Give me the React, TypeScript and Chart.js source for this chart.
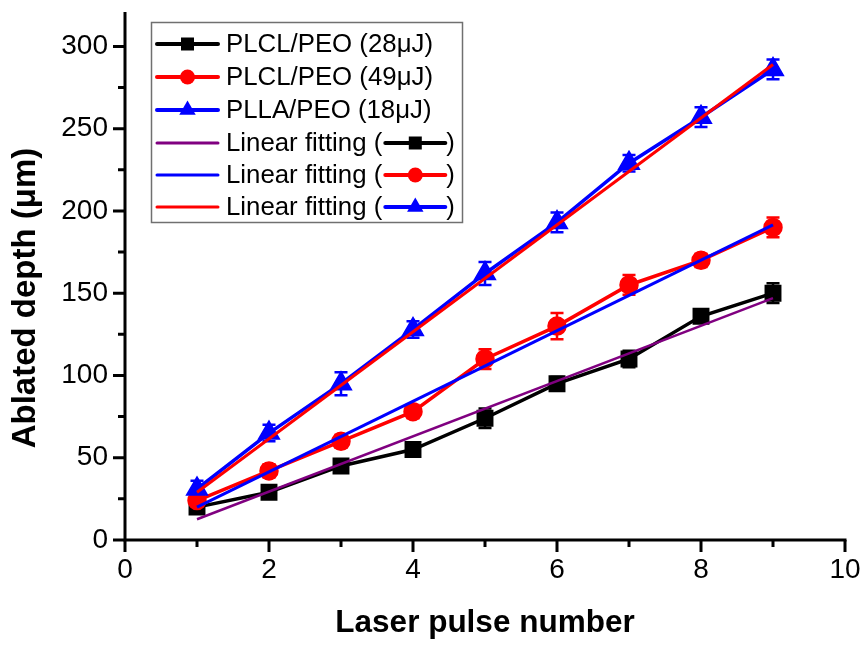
import React, { useEffect, useRef } from "react";
import { Chart, registerables } from "chart.js";

Chart.register(...registerables);

// ---- data ----
const pulses = [1, 2, 3, 4, 5, 6, 7, 8, 9];
const plcl28 = [20, 29, 45, 55, 74, 95, 110, 136, 150];
const plcl28Err = [3, 3, 3, 4, 6, 4, 5, 3, 6];
const plcl49 = [24, 42, 60, 78, 110, 130, 155, 170, 190];
const plcl49Err = [4, 4, 4, 4, 6, 8, 6, 4, 6];
const plla18 = [31, 65, 95, 128, 162, 193, 229, 257, 286];
const plla18Err = [5, 5, 7, 5, 7, 6, 5, 6, 6];

const fitX = [1, 9];
const fit28 = [12.6, 147];
const fit49 = [20, 191.5];
const fit18 = [29, 289];

const xMajorTicks = [0, 2, 4, 6, 8, 10];
const xMinorTicks = [1, 3, 5, 7, 9];
const yMajorTicks = [0, 50, 100, 150, 200, 250, 300];
const yMinorTicks = [25, 75, 125, 175, 225, 275];

const seriesLabels = ["PLCL/PEO (28\u03bcJ)", "PLCL/PEO (49\u03bcJ)", "PLLA/PEO (18\u03bcJ)"];
const fitLabel = "Linear fitting (";
const xTitle = "Laser pulse number";
const yTitle = "Ablated depth (\u03bcm)";

const FONT = "'Liberation Sans', Arial, sans-serif";

type Marker = "rect" | "circle" | "triangle";

function drawMarker(ctx: CanvasRenderingContext2D, m: Marker, x: number, y: number, color: string) {
  ctx.save();
  ctx.fillStyle = color;
  ctx.beginPath();
  if (m === "rect") {
    ctx.rect(x - 6.5, y - 6.5, 13, 13);
  } else if (m === "circle") {
    ctx.arc(x, y, 7.5, 0, Math.PI * 2);
  } else {
    const r = 9.5;
    ctx.moveTo(x, y - r);
    ctx.lineTo(x + r * 0.866, y + r * 0.5);
    ctx.lineTo(x - r * 0.866, y + r * 0.5);
    ctx.closePath();
  }
  ctx.fill();
  ctx.restore();
}

function drawSample(
  ctx: CanvasRenderingContext2D,
  x0: number,
  x1: number,
  y: number,
  color: string,
  width: number,
  marker?: Marker
) {
  ctx.save();
  ctx.strokeStyle = color;
  ctx.lineWidth = width;
  ctx.lineCap = "round";
  ctx.beginPath();
  ctx.moveTo(x0, y);
  ctx.lineTo(x1, y);
  ctx.stroke();
  ctx.restore();
  if (marker) drawMarker(ctx, marker, (x0 + x1) / 2, y, color);
}

const errorBarPlugin = {
  id: "errorBars",
  beforeDatasetsDraw(chart: any) {
    const { ctx } = chart;
    const xs = chart.scales.x;
    const ys = chart.scales.y;
    const sets: [number[], number[], string][] = [
      [plcl28, plcl28Err, "#000000"],
      [plcl49, plcl49Err, "#ff0000"],
      [plla18, plla18Err, "#0000ff"],
    ];
    ctx.save();
    ctx.lineWidth = 2.5;
    for (const [vals, errs, col] of sets) {
      ctx.strokeStyle = col;
      vals.forEach((v, i) => {
        const px = xs.getPixelForValue(pulses[i]);
        const top = ys.getPixelForValue(v + errs[i]);
        const bot = ys.getPixelForValue(v - errs[i]);
        ctx.beginPath();
        ctx.moveTo(px, top);
        ctx.lineTo(px, bot);
        ctx.moveTo(px - 6.5, top);
        ctx.lineTo(px + 6.5, top);
        ctx.moveTo(px - 6.5, bot);
        ctx.lineTo(px + 6.5, bot);
        ctx.stroke();
      });
    }
    ctx.restore();
  },
};

const axesPlugin = {
  id: "axesDraw",
  afterDraw(chart: any) {
    const { ctx, chartArea } = chart;
    const { left, right, top, bottom } = chartArea;
    const xs = chart.scales.x;
    const ys = chart.scales.y;
    ctx.save();
    ctx.strokeStyle = "#000";
    ctx.lineWidth = 3;
    ctx.lineCap = "square";
    ctx.beginPath();
    ctx.moveTo(left, top);
    ctx.lineTo(left, bottom);
    ctx.lineTo(right, bottom);
    ctx.stroke();
    ctx.lineCap = "butt";
    ctx.beginPath();
    for (const t of xMajorTicks) {
      const p = xs.getPixelForValue(t);
      ctx.moveTo(p, bottom);
      ctx.lineTo(p, bottom + 12);
    }
    for (const t of xMinorTicks) {
      const p = xs.getPixelForValue(t);
      ctx.moveTo(p, bottom);
      ctx.lineTo(p, bottom + 7);
    }
    for (const t of yMajorTicks) {
      const p = ys.getPixelForValue(t);
      ctx.moveTo(left, p);
      ctx.lineTo(left - 12, p);
    }
    for (const t of yMinorTicks) {
      const p = ys.getPixelForValue(t);
      ctx.moveTo(left, p);
      ctx.lineTo(left - 7, p);
    }
    ctx.stroke();

    // y-axis title
    ctx.save();
    ctx.translate(26, 298);
    ctx.rotate(-Math.PI / 2);
    ctx.font = `bold 33px ${FONT}`;
    ctx.fillStyle = "#000";
    ctx.textAlign = "center";
    ctx.textBaseline = "middle";
    ctx.fillText(yTitle, 0, 0);
    ctx.restore();
    ctx.restore();
  },
};

const legendPlugin = {
  id: "customLegend",
  afterDraw(chart: any) {
    const ctx: CanvasRenderingContext2D = chart.ctx;
    ctx.save();
    ctx.fillStyle = "#ffffff";
    ctx.fillRect(151, 22, 311, 200);
    ctx.strokeStyle = "#707070";
    ctx.lineWidth = 1.5;
    ctx.strokeRect(151.5, 22.5, 311, 200);
    const rowsY = [44, 77, 110, 143, 175, 207];
    const sx0 = 157;
    const sx1 = 218;
    const tx = 226;
    ctx.font = `25.8px ${FONT}`;
    ctx.textBaseline = "middle";
    ctx.fillStyle = "#000";
    const seriesCols = ["#000000", "#ff0000", "#0000ff"];
    const markers: Marker[] = ["rect", "circle", "triangle"];
    for (let i = 0; i < 3; i++) {
      drawSample(ctx, sx0, sx1, rowsY[i], seriesCols[i], 4, markers[i]);
      ctx.fillStyle = "#000";
      ctx.fillText(seriesLabels[i], tx, rowsY[i] + 1);
    }
    const fitCols = ["#800080", "#0000ff", "#ff0000"];
    for (let i = 0; i < 3; i++) {
      const y = rowsY[i + 3];
      drawSample(ctx, sx0, sx1, y, fitCols[i], 3);
      ctx.fillStyle = "#000";
      ctx.fillText(fitLabel, tx, y + 1);
      const w = ctx.measureText(fitLabel).width;
      const ix0 = tx + w + 3;
      const ix1 = ix0 + 60;
      drawSample(ctx, ix0, ix1, y, seriesCols[i], 4, markers[i]);
      ctx.fillStyle = "#000";
      ctx.fillText(")", ix1 + 1, y + 1);
    }
    ctx.restore();
  },
};

export default function App() {
  const ref = useRef<HTMLCanvasElement>(null);
  useEffect(() => {
    if (!ref.current) return;
    const pts = (xs: number[], ys: number[]) => xs.map((x, i) => ({ x, y: ys[i] }));
    const chart = new Chart(ref.current, {
      type: "line",
      data: {
        datasets: [
          {
            label: seriesLabels[0],
            data: pts(pulses, plcl28),
            borderColor: "#000000",
            backgroundColor: "#000000",
            borderWidth: 3.5,
            pointStyle: "rect",
            pointRadius: 9.5,
            order: 3,
          },
          {
            label: seriesLabels[1],
            data: pts(pulses, plcl49),
            borderColor: "#ff0000",
            backgroundColor: "#ff0000",
            borderWidth: 3.5,
            pointStyle: "circle",
            pointRadius: 8,
            order: 2,
          },
          {
            label: seriesLabels[2],
            data: pts(pulses, plla18),
            borderColor: "#0000ff",
            backgroundColor: "#0000ff",
            borderWidth: 3.5,
            pointStyle: "triangle",
            pointRadius: 10,
            order: 1,
          },
          {
            label: "fit28",
            data: pts(fitX, fit28),
            borderColor: "#800080",
            borderWidth: 2.5,
            pointRadius: 0,
            order: 0,
          },
          {
            label: "fit49",
            data: pts(fitX, fit49),
            borderColor: "#0000ff",
            borderWidth: 3,
            pointRadius: 0,
            order: 0,
          },
          {
            label: "fit18",
            data: pts(fitX, fit18),
            borderColor: "#ff0000",
            borderWidth: 3,
            pointRadius: 0,
            order: 0,
          },
        ],
      },
      options: {
        animation: false,
        responsive: false,
        devicePixelRatio: 1,
        layout: { padding: { left: 0, top: 9, right: 19, bottom: 0 } },
        plugins: {
          legend: { display: false },
          tooltip: { enabled: false },
        },
        elements: { point: { borderWidth: 0 }, line: { tension: 0 } },
        scales: {
          x: {
            type: "linear",
            min: 0,
            max: 10,
            grid: { display: false, drawTicks: false },
            border: { display: false },
            afterBuildTicks: (s: any) => {
              s.ticks = xMajorTicks.map((v) => ({ value: v }));
            },
            ticks: {
              font: { family: FONT, size: 28 },
              color: "#000",
              padding: 13,
              maxRotation: 0,
            },
            title: {
              display: true,
              text: xTitle,
              font: { family: FONT, size: 31.5, weight: "bold" },
              color: "#000",
              padding: { top: 0, bottom: 3 },
            },
            afterFit: (s: any) => {
              s.height = 105;
              s.paddingLeft = 0;
              s.paddingRight = 0;
            },
          },
          y: {
            type: "linear",
            min: 0,
            max: 320,
            grid: { display: false, drawTicks: false },
            border: { display: false },
            afterBuildTicks: (s: any) => {
              s.ticks = yMajorTicks.map((v) => ({ value: v }));
            },
            ticks: {
              font: { family: FONT, size: 28 },
              color: "#000",
              padding: 17,
            },
            title: { display: false },
            afterFit: (s: any) => {
              s.width = 125;
              s.paddingTop = 0;
              s.paddingBottom = 0;
            },
          },
        },
      },
      plugins: [errorBarPlugin, axesPlugin, legendPlugin],
    } as any);
    return () => chart.destroy();
  }, []);
  return (
    <div style={{ position: "fixed", left: 0, top: 0, width: 864, height: 645, background: "#fff" }}>
      <canvas ref={ref} width={864} height={645} style={{ display: "block", width: 864, height: 645 }} />
    </div>
  );
}
